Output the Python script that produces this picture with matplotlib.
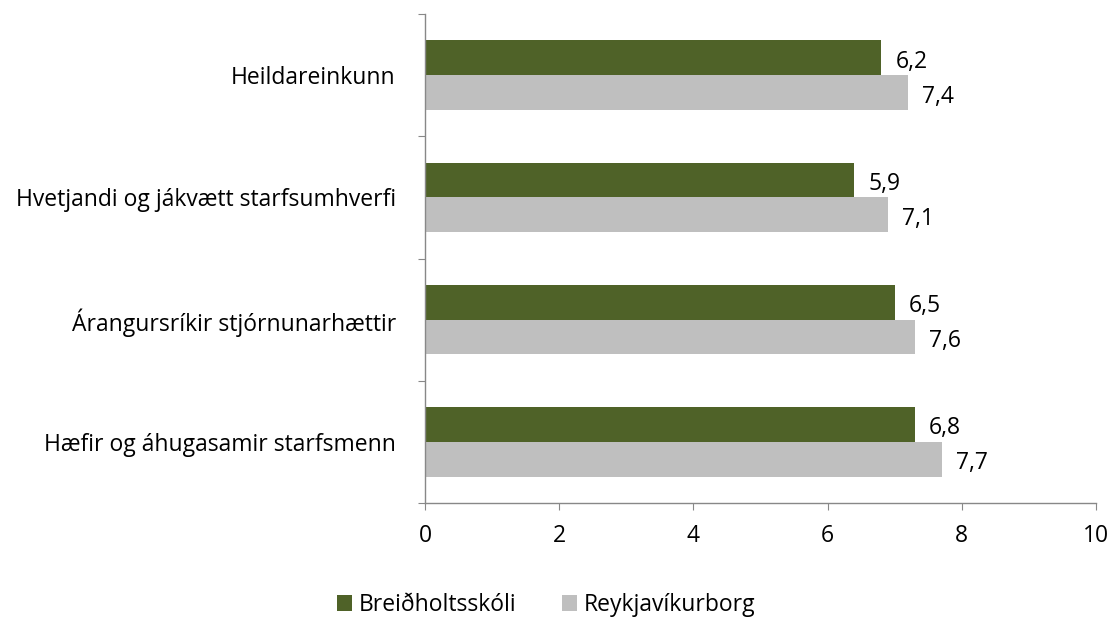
import matplotlib
matplotlib.use("Agg")
import matplotlib.pyplot as plt
import numpy as np

categories = ["Heildareinkunn", "Hvetjandi og jákvætt starfsumhverfi",
              "Árangursríkir stjórnunarhættir", "Hæfir og áhugasamir starfsmenn"]
series_names = ["Breiðholtsskóli", "Reykjavíkurborg"]
bar_school = [6.8, 6.4, 7.0, 7.3]
bar_city = [7.2, 6.9, 7.3, 7.7]
label_school = ["6,2", "5,9", "6,5", "6,8"]
label_city = ["7,4", "7,1", "7,6", "7,7"]
xticks = [0, 2, 4, 6, 8, 10]

plt.rcParams['font.family'] = ['Open Sans', 'DejaVu Sans']
FS = 16.5

fig = plt.figure(figsize=(11.10, 6.28), dpi=100)
ax = fig.add_axes([425/1110, 1-503/628, (1096-425)/1110, (503-14)/628])

n = len(categories)
centers = np.arange(n)[::-1] + 0.5  # top category at top
h = 0.285
green = "#4F6228"
gray = "#BFBFBF"
b1 = ax.barh(centers + h/2, bar_school, height=h, color=green, label=series_names[0])
b2 = ax.barh(centers - h/2, bar_city, height=h, color=gray, label=series_names[1])

for bars, labs in ((b1, label_school), (b2, label_city)):
    for rect, lab in zip(bars, labs):
        ax.annotate(lab, (rect.get_width(), rect.get_y() + rect.get_height()/2),
                    xytext=(14, -4), textcoords="offset pixels",
                    ha="left", va="center", fontsize=FS)

ax.set_xlim(0, 10)
ax.set_ylim(0, n)
ax.set_xticks(xticks)
ax.set_xticklabels([str(t) for t in xticks], fontsize=FS)
ax.set_yticks(np.arange(n+1))
ax.set_yticklabels([])
ax.set_yticks(centers, minor=True)
ax.set_yticklabels(categories, minor=True, fontsize=FS)
ax.tick_params(axis="y", which="minor", length=0, pad=21)
ax.tick_params(axis="y", which="major", length=5, color="#888888", direction="out")
ax.tick_params(axis="x", length=5, color="#888888", direction="out", pad=10)
for s in ("top", "right"):
    ax.spines[s].set_visible(False)
for s in ("left", "bottom"):
    ax.spines[s].set_color("#888888")
    ax.spines[s].set_linewidth(1)

fig.legend(handles=[b1, b2], labels=series_names, loc="center",
           bbox_to_anchor=(546/1110, 1-605/628), ncol=2, frameon=False,
           fontsize=FS, handlelength=0.65, handleheight=0.65, handletextpad=0.3,
           columnspacing=2.0)

fig.savefig("out.png", dpi=100)
